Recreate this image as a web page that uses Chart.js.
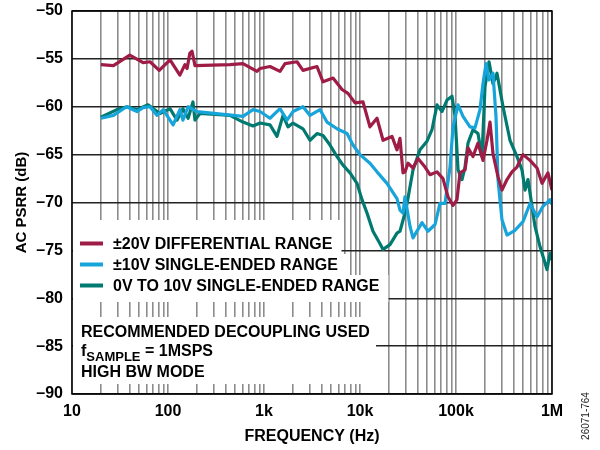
<!DOCTYPE html>
<html>
<head>
<meta charset="utf-8">
<script src="https://cdn.jsdelivr.net/npm/chart.js@4/dist/chart.umd.min.js"></script>
<style>
  html, body { margin: 0; padding: 0; background: #fff; }
  #wrap { width: 600px; height: 450px; position: relative; }
</style>
</head>
<body>
<div id="wrap"><canvas id="cvsPsrr"></canvas></div>
<script>
// dados (frequencia em Hz, PSRR em dB)
const freqDif = [20, 27, 40, 55, 65, 81, 105, 133, 150, 158, 169, 178, 191, 442, 604, 846, 909, 1155, 1468, 1655, 2207, 2548, 3565, 4120, 5235, 6494, 7499, 8878, 10750, 12700, 15030, 17380, 21540, 24280, 26100, 28050, 29430, 31620, 33200, 35650, 40200, 47550, 53600, 63400, 73200, 82500, 93100, 102400, 110100, 124100, 133400, 150300, 169400, 191000, 210400, 226100, 242800, 273800, 301300, 339800, 383000, 431700, 499000, 590000, 698000, 787000, 908000, 1000000];
const psrrDif = [-55.6, -55.7, -54.6, -55.4, -55.3, -56.2, -55.1, -56.7, -55.6, -56.0, -54.4, -54.2, -55.7, -55.6, -55.5, -56.3, -56.0, -55.8, -56.3, -55.5, -55.3, -56.2, -55.8, -57.4, -57.0, -58.2, -58.6, -59.6, -59.5, -62.1, -61.2, -63.5, -63.1, -64.5, -63.3, -66.9, -66.8, -65.9, -66.1, -66.4, -65.4, -66.3, -67.1, -66.8, -67.5, -69.4, -70.3, -69.7, -66.9, -66.6, -64.3, -65.2, -63.8, -65.6, -63.5, -61.6, -64.9, -67.3, -68.7, -67.6, -66.8, -66.3, -65.0, -65.6, -66.4, -68.0, -66.9, -68.7];

const freqSe10 = [20, 27, 37, 47.5, 55, 65, 77, 89, 113, 133, 143, 162, 200, 604, 768, 909, 1155, 1468, 1737, 2005, 2548, 3013, 3831, 4531, 5757, 7326, 8456, 10000, 12700, 15030, 19100, 24280, 26100, 28050, 29430, 33200, 35650, 44250, 51100, 60400, 68100, 76800, 86600, 93100, 105000, 118300, 140000, 157700, 177800, 191000, 205400, 220800, 242800, 261000, 273800, 301300, 339800, 412000, 499000, 590000, 698000, 806000, 953000, 1000000];
const psrrSe10 = [-61.2, -60.9, -60.0, -60.5, -60.1, -60.0, -60.9, -60.3, -61.9, -60.3, -61.4, -60.0, -60.5, -61.0, -60.3, -60.5, -61.2, -60.2, -61.4, -60.5, -60.0, -60.9, -60.3, -61.6, -62.3, -62.8, -64.0, -65.0, -65.9, -66.8, -68.0, -69.6, -70.8, -71.1, -69.4, -72.5, -73.7, -72.1, -73.0, -72.3, -70.1, -70.1, -66.3, -62.1, -59.8, -61.0, -62.1, -62.2, -60.3, -57.6, -55.5, -57.2, -56.5, -61.0, -67.6, -71.8, -73.4, -72.9, -72.0, -70.1, -71.5, -70.4, -69.7, -70.2];

const freqSe0 = [20, 29.4, 37.4, 47.5, 62, 82.5, 105, 124, 143, 162, 182, 191, 215, 442, 604, 768, 909, 1155, 1366, 1578, 1778, 2005, 2548, 3013, 3565, 4120, 4870, 5757, 6650, 7870, 9310, 10491, 11830, 13650, 16160, 17380, 20540, 24280, 26100, 29430, 30900, 35650, 42170, 49900, 56230, 63400, 71450, 80600, 90850, 97700, 105000, 115500, 124100, 133400, 150300, 169400, 186500, 200500, 220800, 242800, 267300, 309000, 365200, 431700, 487000, 523600, 562300, 619000, 665000, 750000, 887000, 953000, 1000000];
const psrrSe0 = [-61.1, -60.3, -60.0, -60.3, -59.8, -60.7, -60.2, -61.4, -60.2, -61.2, -59.5, -61.4, -60.7, -60.9, -61.6, -62.0, -61.7, -61.9, -63.1, -60.9, -62.1, -61.7, -62.3, -63.5, -62.8, -63.0, -64.0, -65.2, -66.1, -66.9, -68.0, -69.7, -71.1, -73.0, -74.3, -74.9, -74.4, -73.2, -73.0, -71.1, -70.1, -66.6, -64.5, -63.6, -62.4, -59.8, -60.5, -59.3, -58.9, -61.0, -66.6, -67.6, -66.3, -63.8, -62.4, -62.8, -65.2, -57.9, -55.3, -57.6, -56.5, -60.0, -63.5, -65.2, -66.6, -68.7, -67.6, -70.4, -72.5, -74.6, -77.0, -75.3, -76.0];

const nomesSeries = ["±20V DIFFERENTIAL RANGE", "±10V SINGLE-ENDED RANGE", "0V TO 10V SINGLE-ENDED RANGE"];
const coresSeries = ["#9e1c45", "#17a4da", "#007a70"];

const decadas = [10, 100, 1000, 10000, 100000, 1000000];
const rotulosDecadas = ["10", "100", "1k", "10k", "100k", "1M"];

const notas = ["RECOMMENDED DECOUPLING USED", "HIGH BW MODE"];

const fonte = "'Liberation Sans', Arial, sans-serif";

function montaPontos(xs, ys) {
  return xs.map((x, i) => ({ x: x, y: ys[i] }));
}

// ticks 1..9 de cada decada
function ticksLog() {
  let t = [];
  for (let d = 0; d < decadas.length; d++) {
    if (d == decadas.length - 1) { t.push({ value: decadas[d] }); break; }
    for (let m = 1; m < 10; m++) t.push({ value: m * decadas[d] });
  }
  return t;
}

// legenda, notas e caixa do grafico
const ysLeg = [243.5, 264.5, 285.5];

const pluginTextos = {
  id: "textos",
  beforeDatasetsDraw(chart) {
    const ctx = chart.ctx;
    const a = chart.chartArea;
    ctx.save();
    ctx.font = "bold 16px " + fonte;
    // fundos brancos da legenda
    for (let i = 0; i < nomesSeries.length; i++) {
      let w = ctx.measureText(nomesSeries[i]).width;
      let top = i == 0 ? 220 : (ysLeg[i] + ysLeg[i - 1]) / 2;
      let bot = i == nomesSeries.length - 1 ? 302 : (ysLeg[i] + ysLeg[i + 1]) / 2;
      ctx.fillStyle = "#fff";
      ctx.fillRect(a.left + 1, top, 113 - a.left + w + 8, bot - top);
    }
    // fundo branco das notas
    ctx.fillRect(a.left + 1, 317, 375 - a.left, 67);
    ctx.restore();
  },
  afterDraw(chart) {
    const ctx = chart.ctx;
    const a = chart.chartArea;
    ctx.save();
    ctx.strokeStyle = "#000";
    ctx.lineWidth = 1.5;
    ctx.strokeRect(a.left, a.top, a.right - a.left, a.bottom - a.top);

    ctx.textBaseline = "middle";
    ctx.fillStyle = "#000";
    ctx.font = "bold 16px " + fonte;
    for (let i = 0; i < nomesSeries.length; i++) {
      ctx.strokeStyle = coresSeries[i];
      ctx.lineWidth = 4;
      ctx.beginPath();
      ctx.moveTo(80, ysLeg[i]);
      ctx.lineTo(103, ysLeg[i]);
      ctx.stroke();
      ctx.fillText(nomesSeries[i], 113, ysLeg[i] + 1);
    }

    ctx.fillText(notas[0], 81, 333);
    // f com subscrito
    ctx.fillText("f", 81, 352);
    let wf = ctx.measureText("f").width;
    ctx.font = "bold 13px " + fonte;
    ctx.fillText("SAMPLE", 81 + wf, 357);
    let ws = ctx.measureText("SAMPLE").width;
    ctx.font = "bold 16px " + fonte;
    ctx.fillText(" = 1MSPS", 81 + wf + ws, 352);
    ctx.fillText(notas[1], 81, 373);

    // codigo da figura
    ctx.font = "10px " + fonte;
    ctx.fillStyle = "#222";
    ctx.translate(586, 416);
    ctx.rotate(-Math.PI / 2);
    ctx.textAlign = "center";
    ctx.fillText("26071-764", 0, 0);
    ctx.restore();
  }
};

const ctxPsrr = document.getElementById("cvsPsrr");

new Chart(ctxPsrr, {
  type: "line",
  data: {
    datasets: [
      { label: nomesSeries[0], data: montaPontos(freqDif, psrrDif), borderColor: coresSeries[0] },
      { label: nomesSeries[1], data: montaPontos(freqSe10, psrrSe10), borderColor: coresSeries[1] },
      { label: nomesSeries[2], data: montaPontos(freqSe0, psrrSe0), borderColor: coresSeries[2] }
    ]
  },
  options: {
    responsive: true,
    maintainAspectRatio: false,
    animation: false,
    layout: { padding: { top: 11, right: 48, left: 0, bottom: 0 } },
    elements: {
      line: { borderWidth: 3.2, tension: 0, borderJoinStyle: "round" },
      point: { radius: 0 }
    },
    plugins: { legend: { display: false }, tooltip: { enabled: false } },
    scales: {
      x: {
        type: "logarithmic",
        min: 10,
        max: 1000000,
        afterBuildTicks: (scale) => { scale.ticks = ticksLog(); },
        afterFit: (scale) => {
          scale.height = 56;
          scale.paddingLeft = 0;
          scale.paddingRight = 0;
        },
        grid: { color: "#8c8c8c", lineWidth: 1.6, drawTicks: false },
        border: { display: false },
        ticks: {
          autoSkip: false,
          maxRotation: 0,
          padding: 8,
          color: "#000",
          font: { family: fonte, size: 16, weight: "bold" },
          callback: (v) => {
            let i = decadas.indexOf(v);
            return i >= 0 ? rotulosDecadas[i] : "";
          }
        },
        title: {
          display: true,
          text: "FREQUENCY (Hz)",
          color: "#000",
          font: { family: fonte, size: 16, weight: "bold" },
          padding: { top: 6 }
        }
      },
      y: {
        min: -90,
        max: -50,
        afterFit: (scale) => {
          scale.width = 72;
          scale.paddingTop = 0;
          scale.paddingBottom = 0;
        },
        grid: { color: "#222", lineWidth: 1.4, drawTicks: false },
        border: { display: false },
        ticks: {
          stepSize: 5,
          padding: 9,
          color: "#000",
          font: { family: fonte, size: 16, weight: "bold" },
          callback: (v) => "\u2013" + Math.abs(v)
        },
        title: {
          display: true,
          text: "AC PSRR (dB)",
          color: "#000",
          font: { family: fonte, size: 15, weight: "bold" },
          padding: { top: 13, bottom: 0 }
        }
      }
    }
  },
  plugins: [pluginTextos]
});
</script>
</body>
</html>
